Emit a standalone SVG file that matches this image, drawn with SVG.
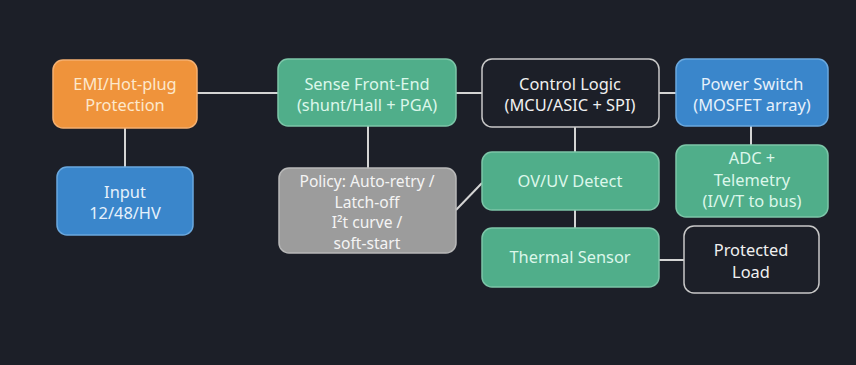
<svg xmlns="http://www.w3.org/2000/svg" width="856" height="365" viewBox="0 0 856 365">
<style>
.bg{fill:#1c1f28}
.box{stroke-width:1.5}
.orange{fill:#ef933b;stroke:#f5b070}
.blue{fill:#3a86cb;stroke:#6aa8de}
.green{fill:#50ae8a;stroke:#7cc6a8}
.gray{fill:#9c9c9c;stroke:#b8b8b8}
.dark{fill:#1c1f28;stroke:#c8c8c8}
text{font-family:"Noto Sans","DejaVu Sans",sans-serif;font-size:16.4px;text-anchor:middle}
.small{font-size:15.6px}
.t-or{fill:#fde8cc}
.t-bl{fill:#e6f1fb}
.t-gr{fill:#dcf7ea}
.t-gy{fill:#f4f4f4}
.t-dk{fill:#f0f0f0}
.conn line{stroke:#d4d4d4;stroke-width:2}
</style>
<rect class="bg" x="0" y="0" width="856" height="365"/>
<g class="conn" id="connectors">
<line x1="125" y1="128" x2="125" y2="167"/>
<line x1="197" y1="93" x2="278" y2="93"/>
<line x1="456" y1="93" x2="482" y2="93"/>
<line x1="659" y1="93" x2="676" y2="93"/>
<line x1="368" y1="126" x2="368" y2="168"/>
<line x1="456" y1="210" x2="482" y2="183"/>
<line x1="575" y1="127" x2="575" y2="152"/>
<line x1="751" y1="126" x2="751" y2="145"/>
<line x1="575" y1="210" x2="575" y2="228"/>
<line x1="659" y1="260" x2="684" y2="260"/>
</g>
<g id="emi">
<rect class="box orange" x="53" y="60" width="144" height="68" rx="10"/>
<text class="t-or" x="125" y="90">EMI/Hot-plug</text>
<text class="t-or" x="125" y="111">Protection</text>
</g>
<g id="input">
<rect class="box blue" x="57" y="167" width="136" height="68" rx="10"/>
<text class="t-bl" x="125" y="198">Input</text>
<text class="t-bl" x="125" y="219">12/48/HV</text>
</g>
<g id="sense">
<rect class="box green" x="278" y="59" width="178" height="67" rx="10"/>
<text class="t-gr" x="367" y="90">Sense Front-End</text>
<text class="t-gr" x="367" y="111">(shunt/Hall + PGA)</text>
</g>
<g id="policy">
<rect class="box gray" x="279" y="168" width="177" height="85" rx="10"/>
<text class="t-gy small" x="367" y="187">Policy: Auto-retry /</text>
<text class="t-gy small" x="367" y="207.5">Latch-off</text>
<text class="t-gy small" x="367" y="228">I²t curve /</text>
<text class="t-gy small" x="367" y="248.5">soft-start</text>
</g>
<g id="control">
<rect class="box dark" x="482" y="59" width="177" height="68" rx="10"/>
<text class="t-dk" x="570" y="90">Control Logic</text>
<text class="t-dk" x="570" y="111">(MCU/ASIC + SPI)</text>
</g>
<g id="ovuv">
<rect class="box green" x="482" y="152" width="177" height="58" rx="10"/>
<text class="t-gr" x="570" y="187">OV/UV Detect</text>
</g>
<g id="thermal">
<rect class="box green" x="482" y="228" width="177" height="59" rx="10"/>
<text class="t-gr" x="570" y="263">Thermal Sensor</text>
</g>
<g id="power">
<rect class="box blue" x="676" y="59" width="152" height="67" rx="10"/>
<text class="t-bl" x="752" y="90">Power Switch</text>
<text class="t-bl" x="752" y="111">(MOSFET array)</text>
</g>
<g id="adc">
<rect class="box green" x="676" y="145" width="152" height="72" rx="10"/>
<text class="t-gr" x="752" y="164">ADC +</text>
<text class="t-gr" x="752" y="185.5">Telemetry</text>
<text class="t-gr" x="752" y="207">(I/V/T to bus)</text>
</g>
<g id="load">
<rect class="box dark" x="684" y="226" width="135" height="67" rx="10"/>
<text class="t-dk" x="751" y="256">Protected</text>
<text class="t-dk" x="751" y="277.5">Load</text>
</g>
</svg>
